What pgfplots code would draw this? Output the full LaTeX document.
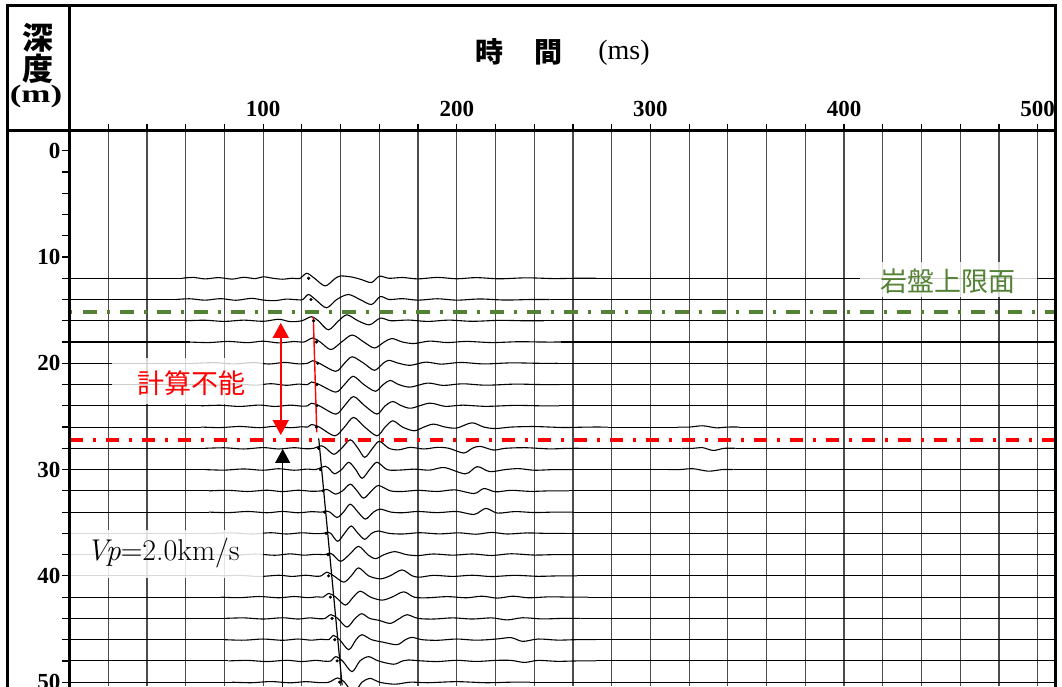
\documentclass[border=0pt]{standalone}
\usepackage{fontspec}
\usepackage{pgfplots}
\pgfplotsset{compat=1.18}
\usetikzlibrary{arrows.meta}
\newfontfamily\numfont{Liberation Serif}
\newfontfamily\jpfont{Noto Sans CJK JP}
\definecolor{rockgreen}{HTML}{548235}
\definecolor{gridgray}{gray}{0.3}

\pgfplotsset{
  trace/.style={black, line width=1.1pt, smooth, tension=0.5, no marks},
  base/.style={black, line width=1.1pt, no marks},
}
% quiet part of a trace before and after the recorded wavelet
\newcommand\quiet[3]{%
  \addplot[base] coordinates {(0,#1) (#2,#1)};
  \addplot[base] coordinates {(#3,#1) (509.2,#1)};}

\begin{document}
\begin{tikzpicture}[x=1pt,y=1pt]
\clip (-69.5,0) rectangle (992.5,686);
\begin{axis}[
  at={(0,0)}, anchor=south west,
  scale only axis, width=986pt, height=555.5pt,
  xmin=0, xmax=509.2, ymin=-1.9, ymax=50.36,
  y dir=reverse,
  axis x line*=top, axis y line*=left,
  axis line style={line width=3pt, -},
  xtick={100,200,300,400,500},
  minor xtick={20,40,60,80,120,140,160,180,220,240,260,280,320,340,360,380,420,440,460,480},
  ytick={0,10,20,30,40,50},
  minor ytick={2,4,6,8,12,14,16,18,22,24,26,28,32,34,36,38,42,44,46,48},
  tick align=outside,
  major tick length=7pt, minor tick length=7pt,
  tick style={black, line width=1.2pt},
  xmajorgrids, xminorgrids,
  major grid style={gridgray, line width=1.2pt},
  minor grid style={gridgray, line width=1.2pt},
  /pgf/number format/assume math mode=true,
  ticklabel style={font=\numfont\bfseries\fontsize{23}{23}\selectfont, inner sep=0pt},
  xticklabel style={yshift=7pt},
  yticklabel style={xshift=-2pt},
  clip mode=global,
]
% seismic traces, one per receiver depth
\quiet{12}{58}{272}
\addplot[trace] coordinates {(58,12) (64,11.92) (70,12.06) (77,11.94) (84,12.08) (90,11.91) (96,12.04) (100,11.86) (105,12) (110,12.09) (115,12) (119,12.02) (122.5,11.53) (126.5,12) (132,12.72) (137,12.05) (140,11.78) (146.5,11.91) (151,12.14) (156,12.40) (160,11.81) (165,12) (172,11.93) (180,12.06) (190,11.92) (200,12.05) (210,11.94) (222,12.05) (236,11.96) (250,12.03) (262,12) (272,12)};
\quiet{14}{55}{248}
\addplot[trace] coordinates {(55,14) (62,13.93) (70,14.06) (78,13.92) (86,14.07) (94,13.89) (100,14.05) (106,14.11) (112,13.96) (118,14.03) (120.5,14) (123.4,13.53) (127,14) (132.7,14.78) (138,14) (144,13.53) (150,14) (156,14.47) (160.5,13.72) (165,14) (172,13.92) (180,14.06) (190,13.93) (200,14.06) (212,13.95) (225,14.05) (238,14) (248,14)};
\quiet{16}{60}{245}
\addplot[trace] coordinates {(60,16) (70,15.95) (80,16.06) (90,15.94) (100,16.05) (108,15.86) (114,16.08) (120,16) (124.9,15.62) (128.5,16) (133.7,16.85) (139,16) (143.3,15.44) (149,16) (155,16.38) (160.5,15.75) (166,16) (175,15.93) (185,16.06) (196,15.94) (208,16.05) (222,15.96) (235,16) (245,16)};
\quiet{18}{62}{254}
\addplot[trace] coordinates {(62,18) (72,18.05) (82,17.94) (92,18.06) (100,17.92) (108,18.08) (116,17.95) (121,18) (125.6,17.62) (129.5,18) (135,18.71) (140.5,18) (146,17.34) (152,18) (157.5,18.56) (162.5,18) (166.5,17.67) (172,18) (178,18.14) (186,17.91) (195,18.05) (205,17.94) (218,18.05) (232,17.97) (244,18) (254,18)};
\quiet{20}{65}{252}
\addplot[trace] coordinates {(65,20) (75,19.94) (85,20.06) (95,19.93) (103,20.07) (111,19.92) (118,20.05) (123,20) (125.5,19.76) (129,20) (137.5,20.75) (142,20) (146,19.39) (152,20) (157.5,20.66) (162,20) (165,19.72) (170,20) (176,20.19) (184,19.89) (192,20.08) (202,19.92) (214,20.06) (228,19.96) (242,20) (252,20)};
\quiet{22}{65}{253}
\addplot[trace] coordinates {(65,22) (76,22.05) (86,21.94) (96,22.06) (104,21.92) (112,22.07) (118,21.96) (123,22) (125,21.76) (129,22) (137.5,22.71) (142,22) (146.5,21.22) (152,22) (158,22.63) (162,22) (165.7,21.62) (170,22) (176,22.24) (185,21.86) (193,22.08) (203,21.93) (215,22.06) (230,21.96) (243,22) (253,22)};
\quiet{24}{68}{253}
\addplot[trace] coordinates {(68,24) (78,23.95) (88,24.06) (98,23.93) (106,24.06) (114,23.94) (120,24.03) (123,24) (125,23.76) (129,24) (137.5,24.78) (142,24) (146.7,23.13) (152.5,24) (158.8,24.78) (163,24) (167,23.60) (171.5,24) (176.5,24.22) (186,23.75) (194,24.05) (203,23.94) (215,24.05) (230,23.96) (243,24) (253,24)};
\addplot[base] coordinates {(0,26) (68,26)};
\addplot[trace] coordinates {(68,26) (78,26.05) (88,25.94) (98,26.06) (106,25.93) (114,26.06) (120,25.97) (123,26) (125,25.76) (129,26) (137,26.82) (142,26) (146.7,25.09) (152.5,26) (158.8,26.82) (163,26) (167,25.41) (172,26) (178,26.35) (183,26) (188,25.72) (194,26) (200,26.09) (207.8,25.60) (214,26) (220,26.14) (228,26) (240,25.95) (255,26.04) (268,26) (278,26)};
\addplot[base] coordinates {(278,26) (314,26)};
\addplot[trace] coordinates {(314,26) (320,26) (327,25.88) (334,26.07) (340,26) (346,26)};
\addplot[base] coordinates {(346,26) (509.2,26)};
\addplot[base] coordinates {(0,28) (70,28)};
\addplot[trace] coordinates {(70,28) (80,27.95) (90,28.06) (100,27.93) (108,28.06) (116,27.94) (122,28.04) (126,28) (130,27.76) (132.5,28) (136.5,28.56) (140.5,28) (145,27.20) (149,28) (152.5,28.85) (156.5,28) (160,27.34) (165,28) (170,28.14) (176,27.91) (183,28.06) (190,27.91) (196,28) (203.5,28.44) (208,28) (212,27.81) (219,28.16) (225,28) (235,27.94) (248,28.05) (258,28) (268,28)};
\addplot[base] coordinates {(268,28) (316,28)};
\addplot[trace] coordinates {(316,28) (322,28) (327,27.94) (332.5,28.2) (338,28) (344,28)};
\addplot[base] coordinates {(344,28) (509.2,28)};
\addplot[base] coordinates {(0,30) (70,30)};
\addplot[trace] coordinates {(70,30) (80,30.05) (90,29.94) (100,30.06) (108,29.92) (116,30.06) (123,29.95) (127,30) (132.1,29.69) (134.5,30) (136.8,30.40) (140.5,30) (144.2,29.31) (147.8,30) (151.1,30.82) (155,30) (158.8,29.31) (164,30) (170,30.05) (178,29.96) (186,30.05) (193.6,29.81) (204.5,30.40) (210.5,29.72) (217,30.19) (225,30) (232,29.91) (240,30.06) (250,30) (260,30)};
\addplot[base] coordinates {(260,30) (309,30)};
\addplot[trace] coordinates {(309,30) (315,30) (322,29.92) (330,30.15) (337,30) (343,30)};
\addplot[base] coordinates {(343,30) (509.2,30)};
\quiet{32}{72}{258}
\addplot[trace] coordinates {(72,32) (82,31.95) (92,32.06) (102,31.94) (110,32.07) (118,31.94) (125,32.04) (130,32) (132.5,31.86) (134.5,32) (137.3,32.31) (141,32) (145,31.37) (148.5,32) (151.9,32.69) (156,32) (159.6,31.50) (165.7,32) (172,32.06) (180,31.95) (190,32.06) (199,31.91) (209,32.25) (214,31.78) (220,32.09) (228,31.95) (238,32.05) (248,32) (258,32)};
\quiet{34}{72}{260}
\addplot[trace] coordinates {(72,34) (82,34.05) (92,33.94) (102,34.06) (110,33.94) (118,34.06) (125,33.96) (130,34) (133,33.91) (134.5,34) (138.2,34.50) (141.5,34) (145,33.25) (149,34) (152.8,34.66) (157,34) (160.5,33.72) (166,34) (172,34.06) (180,33.94) (190,34.05) (200,33.94) (209,34.22) (215,33.65) (221,34.09) (230,33.95) (240,34.04) (250,34) (260,34)};
\quiet{36}{74}{256}
\addplot[trace] coordinates {(74,36) (84,35.95) (94,36.06) (104,35.94) (112,36.06) (120,35.95) (127,36.03) (131,36) (133.5,35.89) (135,36) (138.5,36.75) (142,36) (145.5,35.31) (149,36) (152.5,36.56) (156,36) (159.5,35.78) (165,36) (172,36.06) (181,35.94) (191,36.05) (201,35.95) (210,36.08) (218,35.91) (226,36.06) (236,35.96) (246,36) (256,36)};
\quiet{38}{76}{260}
\addplot[trace] coordinates {(76,38) (86,38.05) (96,37.94) (106,38.06) (114,37.93) (121,38.05) (127,37.97) (132,38) (134,37.86) (136,38) (140,38.63) (144.5,38) (149.3,37.22) (154,38) (158,38.38) (162.5,38) (168,37.72) (174,38) (180,38.09) (188,37.94) (198,38.05) (208,37.94) (218,38.08) (228,37.92) (240,38.04) (250,38) (260,38)};
\quiet{40}{78}{262}
\addplot[trace] coordinates {(78,40) (88,39.95) (98,40.06) (108,39.94) (115,40.05) (122,39.94) (127,40.03) (130,40) (133,39.65) (136.5,40) (141.6,40.59) (145.5,40) (149.3,39.25) (154.5,40) (160.5,40.28) (165.5,40) (171.7,39.44) (177,40) (181,40.12) (188,39.95) (198,40.05) (208,39.94) (218,40.06) (230,39.95) (242,40.04) (252,40) (262,40)};
\quiet{42}{78}{268}
\addplot[trace] coordinates {(78,42) (88,42.05) (98,41.94) (108,42.06) (116,41.94) (123,42.05) (128,41.97) (131,42) (134,41.65) (137.5,42) (142.5,42.75) (146.5,42) (150.2,41.44) (155.5,42) (161.4,42.28) (166.5,42) (172.6,41.50) (178,42) (185,42.06) (195,41.95) (205,42.06) (213,41.91) (221,42.09) (229,41.91) (237,42.06) (248,41.97) (258,42) (268,42)};
\quiet{44}{80}{264}
\addplot[trace] coordinates {(80,44) (90,43.95) (100,44.06) (110,43.94) (118,44.06) (124,43.95) (129,44.03) (132,44) (135,43.65) (138.5,44) (143.3,44.82) (147.5,44) (151,43.56) (155,44) (160,44.19) (165.7,44.47) (170.5,44) (174.3,43.65) (180,44) (188,44.06) (198,43.95) (208,44.06) (218,43.95) (226,44.14) (234,43.94) (244,44.05) (254,44) (264,44)};
\quiet{46}{80}{272}
\addplot[trace] coordinates {(80,46) (90,46.05) (100,45.94) (110,46.06) (118,45.94) (125,46.05) (130,45.96) (134,46) (136.3,45.60) (139.5,46) (144.2,46.94) (148,46) (151,45.53) (156,46) (162,46.24) (169.2,46.47) (173.5,46) (176.9,45.78) (182,46) (190,46.06) (200,45.94) (210,46.05) (220,45.95) (228,45.81) (234,46.16) (242,45.94) (252,46.04) (262,46) (272,46)};
\quiet{48}{82}{272}
\addplot[trace] coordinates {(82,48) (92,47.95) (102,48.06) (112,47.94) (120,48.06) (127,47.95) (132,48.03) (135,48) (137.5,47.60) (141,48) (145.9,49.01) (150,48) (154.5,47.60) (159.5,48) (167.4,48.31) (172,48) (175,47.91) (182,48) (190,48.06) (200,47.94) (210,48.05) (220,47.95) (228,47.95) (235,48.14) (242,47.95) (252,48.04) (262,48) (272,48)};
\quiet{50}{84}{238}
\addplot[trace] coordinates {(84,50) (94,50.05) (104,49.94) (114,50.06) (122,49.95) (129,50.04) (134,50) (138.5,49.60) (142,50) (146.8,51.03) (151,50) (155.4,49.65) (160,50) (168,50.19) (176,50) (185,50.05) (200,49.95) (215,50.05) (228,50) (238,50)};

% first-arrival picks
\addplot[only marks, mark=*, mark size=1.4pt, black] coordinates {
  (123.5,12) (124.7,14) (126.1,16) (127.5,18) (128.2,20) (127.8,22) (127.8,24) (127.5,26)
  (128.6,28) (129.6,30) (131,32) (131.6,34) (132.5,36) (133.5,38) (133.8,40) (134.7,42)
  (135.6,44) (137,46) (138.2,48) (139.5,50)};

% velocity fit below the bedrock pick, and the unusable interval above it
\addplot[black, line width=1.2pt] coordinates {(128.7,27.06) (140.8,50.3)};
\addplot[red, line width=1.4pt] coordinates {(125.9,15.6) (127.7,26.5)};

% bedrock top and lower limit of the usable section
\addplot[rockgreen, line width=3.8pt, dash pattern=on 3pt off 10pt on 14pt off 10pt] coordinates {(0,15.2) (509.2,15.2)};
\addplot[red, line width=3.8pt, dash pattern=on 13pt off 10pt on 3pt off 10pt] coordinates {(0,27.2) (509.2,27.2)};

\draw[red, line width=1.5pt, {Triangle[width=16pt,length=15pt]}-{Triangle[width=16pt,length=15pt]}]
  (axis cs:109.1,16.2) -- (axis cs:109.1,26.75);
\draw[black, line width=1.2pt, -{Triangle[width=15pt,length=14pt]}]
  (axis cs:110.1,50.5) -- (axis cs:110.1,28.06);
\end{axis}

% label boxes
\fill[white, opacity=0.8] (42.5,282) rectangle (193.5,328);
\node[text=red, font=\jpfont\fontsize{27}{27}\selectfont] at (121.5,303) {計算不能};
\fill[white, opacity=0.8] (790.5,389) rectangle (967.5,424);
\node[text=rockgreen, font=\jpfont\fontsize{27}{27}\selectfont] at (878.5,404.5) {岩盤上限面};
\fill[white, opacity=0.85] (-1.5,108) rectangle (193.5,156);
\node[font=\fontsize{30}{30}\selectfont] at (93.5,133) {\textit{Vp}=2.0km/s};

% header
\node[font=\jpfont\bfseries\fontsize{28}{28}\selectfont] at (419.5,634) {時};
\node[font=\jpfont\bfseries\fontsize{28}{28}\selectfont] at (478.5,634) {間};
\node[font=\numfont\fontsize{28}{28}\selectfont] at (554.5,633.5) {(ms)};
\node[font=\jpfont\bfseries\fontsize{31}{31}\selectfont] at (-31.5,648) {深};
\node[font=\jpfont\bfseries\fontsize{31}{31}\selectfont] at (-31.5,617.5) {度};
\node[font=\numfont\bfseries\fontsize{25}{25}\selectfont] at (-33.5,590) {\scalebox{1.4}[1]{(m)}};

% frame
\draw[line width=2.5pt] (-61.8,-5) -- (-61.8,680.7) -- (986.2,680.7) -- (986.2,-5);
\draw[line width=3pt] (-61.8,555.5) -- (986.2,555.5);
\draw[line width=3pt] (0,-5) -- (0,680.7);
\end{tikzpicture}
\end{document}
